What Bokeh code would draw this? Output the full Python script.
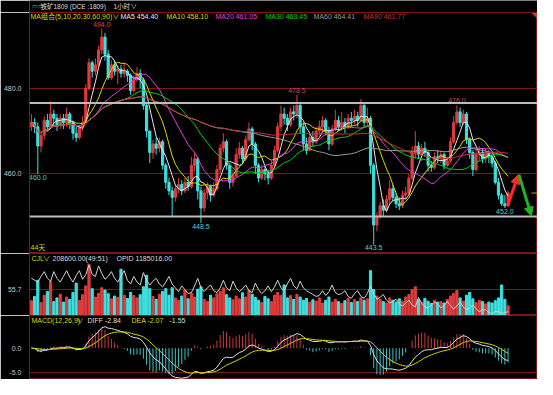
import numpy as np
import pandas as pd
from bokeh.plotting import figure
from bokeh.layouts import column
from bokeh.models import (Range1d, FixedTicker, NumeralTickFormatter, Span, Label,
                          Arrow, NormalHead)
from bokeh.embed import file_html
from bokeh.resources import INLINE
from bokeh.core.properties import value

# ---------------- data ----------------
opens = [471, 472, 471, 466.5, 469, 472.5, 471, 474, 473, 471.5,
         473, 472, 474, 472, 469.5, 468.5, 471, 472, 480, 486,
         484, 485.5, 489, 492, 488, 482.5, 485.5, 484, 484.5, 483.5,
         484, 483, 479.5, 482, 483.5, 482, 476, 470, 465, 467,
         466, 467.5, 462, 458, 456, 454.5, 456.5, 457.5, 456, 458,
         457, 462, 463.5, 456, 452, 455.5, 457, 455, 456.5, 461,
         466, 467.5, 462, 458, 459.5, 464.5, 466, 463.5, 468, 470.5,
         467, 462, 459, 461, 460, 459, 462, 465.5, 471, 474,
         473, 471.5, 474.5, 474, 476, 471, 467, 465.5, 468.5, 467.5,
         470, 471, 472.5, 470, 467, 470.5, 472.5, 471, 472, 471,
         473, 472.5, 473.5, 472.5, 476, 472, 473, 462, 448, 450,
         452.5, 451.5, 454, 456.5, 454.5, 453, 452.5, 455, 455.5, 459,
         465, 466.5, 464.5, 466, 465, 462, 461.5, 464, 463.5, 464.5,
         462, 463, 467.5, 472, 474.5, 472, 474, 468, 465, 461,
         464.5, 465, 463.5, 465, 464, 462.5, 458, 455, 453, 452.5]
highs = [474, 473, 472, 470, 473.5, 474, 477, 475, 474, 474,
         474, 475.5, 474.5, 472.5, 471, 471.5, 473.5, 481, 487, 486.5,
         487, 490, 494, 493, 489, 486.5, 486.5, 485.5, 485.5, 486,
         484.5, 483.5, 483, 485, 484.5, 482.5, 476.5, 470, 468, 468.5,
         468.5, 468, 462.5, 459, 457, 457.5, 459, 458.5, 459, 459.5,
         464, 465, 464, 457, 456.5, 458, 457.5, 458, 462, 467,
         469.5, 468, 462.5, 461, 466, 467.5, 466.5, 469, 472, 471,
         467.5, 462.5, 462, 462, 461, 463, 466.5, 472, 476, 475.5,
         474, 475.5, 476, 478.5, 476.5, 472, 468.5, 469.5, 470, 471,
         472.5, 473.5, 473, 471, 471.5, 475, 473.5, 474.5, 473, 474,
         474.5, 475, 474.5, 477.5, 476.5, 475.5, 473.5, 462.5, 451, 453.5,
         454, 455, 458.5, 457.5, 455.5, 454.5, 456, 457, 460, 466.5,
         470, 467.5, 467, 467.5, 465.5, 463, 465, 465.5, 465.5, 465,
         464, 468.5, 473.5, 476, 475.5, 475, 474.5, 468.5, 465.5, 466,
         466.5, 466, 466, 465.5, 465, 463, 459, 455.5, 455, 456]
lows = [470, 469.5, 460, 465, 468, 470, 470.5, 471, 470, 470.5,
        470.5, 471, 470.5, 468, 467.5, 468, 470, 471.5, 479.5, 482.5,
        483, 485, 488, 486.5, 482, 482, 483, 481, 482.5, 482.5,
        481.5, 478.5, 479, 481.5, 480, 475, 468.5, 462.5, 463.5, 464.5,
        465, 461, 456.5, 455, 450, 453.5, 455.5, 455, 455.5, 456,
        456.5, 460.5, 454, 448.5, 451, 454, 453.5, 454.5, 456, 460,
        465, 461, 456.5, 457, 459, 463.5, 462.5, 463, 467.5, 465.5,
        460, 458, 458.5, 458.5, 457.5, 458.5, 461.5, 465, 470, 471.5,
        470, 471, 472.5, 473, 469.5, 465.5, 464.5, 465.5, 466.5, 467,
        469, 470, 469, 465.5, 466.5, 470, 470, 470.5, 469.5, 470.5,
        471, 471.5, 471, 472, 471, 471, 460, 443.5, 446.5, 449.5,
        450, 451, 453, 453.5, 452, 451.5, 452, 454, 455, 458.5,
        463.5, 463.5, 463, 464, 460.5, 460.5, 461, 462.5, 462.5, 461,
        461.5, 462.5, 467, 471.5, 471, 471.5, 467, 463.5, 459.5, 460.5,
        463, 462.5, 462.5, 462.5, 461.5, 457.5, 454, 452.5, 452, 452.5]
closes = [472, 471, 466.5, 469, 472.5, 471, 474, 473, 471.5, 473,
          472, 474, 472, 469.5, 468.5, 471, 472, 480, 486, 484,
          485.5, 489, 492, 488, 482.5, 485.5, 484, 484.5, 483.5, 484,
          483, 479.5, 482, 483.5, 482, 476, 470, 465, 467, 466,
          467.5, 462, 458, 456, 454.5, 456.5, 457.5, 456, 458, 457,
          462, 463.5, 456, 452, 455.5, 457, 455, 456.5, 461, 466,
          467.5, 462, 458, 459.5, 464.5, 466, 463.5, 468, 470.5, 467,
          462, 459, 461, 460, 459, 462, 465.5, 471, 474, 473,
          471.5, 474.5, 474, 476, 471, 467, 465.5, 468.5, 467.5, 470,
          471, 472.5, 470, 467, 470.5, 472.5, 471, 472, 471, 473,
          472.5, 473.5, 472.5, 476, 472, 473, 462, 448, 450, 452.5,
          451.5, 454, 456.5, 454.5, 453, 452.5, 455, 455.5, 459, 465,
          466.5, 464.5, 466, 465, 462, 461.5, 464, 463.5, 464.5, 462,
          463, 467.5, 472, 474.5, 472, 474, 468, 465, 461, 464.5,
          465, 463.5, 465, 464, 462.5, 458, 455, 453, 452.5, 455.5]
volumes = [32, 41, 76, 28, 44, 52, 74, 30, 38, 46,
           29, 40, 35, 50, 70, 33, 45, 64, 111, 58,
           40, 48, 60, 55, 47, 36, 42, 39, 100, 44,
           37, 50, 43, 38, 45, 62, 87, 58, 41, 35,
           46, 52, 58, 44, 60, 38, 33, 42, 55, 36,
           48, 40, 57, 62, 35, 30, 44, 38, 47, 52,
           60, 45, 38, 34, 42, 36, 49, 40, 54, 46,
           39, 33, 28, 41, 36, 30, 44, 50, 43, 66,
           38, 43, 35, 46, 40, 33, 37, 29, 34, 31,
           38, 27, 33, 40, 29, 35, 30, 26, 32, 37,
           28, 34, 30, 38, 33, 36, 97, 56, 42, 35,
           30, 27, 38, 33, 29, 36, 31, 40, 45, 56,
           62, 34, 28, 37, 31, 26, 33, 29, 30, 27,
           35, 42, 48, 54, 38, 31, 44, 50, 36, 28,
           33, 30, 25, 29, 27, 32, 38, 66, 35, 21]
open_interest = [136, 135, 134, 137, 139.5, 136, 134.5, 139.5, 136, 134,
                 137, 140, 136.5, 134, 137.5, 140, 135.5, 138, 143, 138,
                 137, 142.5, 138.5, 135.5, 137, 139.5, 136, 134, 137, 140,
                 135, 133, 137, 134, 132.5, 139, 135, 132.5, 134.5, 136,
                 133, 131.5, 134, 137, 133, 131, 129, 132, 130, 128,
                 128.5, 132, 136, 131, 129, 131, 132.5, 129.5, 128.5, 131,
                 135, 131, 129.5, 134.5, 131, 129, 130.5, 132.5, 129.5, 128.5,
                 133.5, 130, 128, 129.5, 132, 129, 131.5, 135, 131, 129.5,
                 133, 136, 132, 130.5, 134.5, 131, 129.5, 128.5, 127.5, 126.5,
                 127, 129.5, 127, 129, 132.5, 128.5, 127.5, 128, 129.5, 126.5,
                 125.5, 128, 129.5, 126.5, 125.5, 128, 132, 128, 125, 126,
                 127.5, 124.5, 123, 124, 125, 122.5, 121.5, 123, 124.5, 122,
                 121, 126, 123, 121, 120.5, 122, 123.5, 122.5, 120.5, 121.5,
                 124, 121.5, 120, 121.5, 123.5, 121, 119.5, 120.5, 122, 120,
                 118.5, 119.5, 119.5, 118, 117.5, 118.5, 118.5, 117.5, 118, 118.5]

title_icon = "▭▭"
title_text = "铁矿1809 (DCE :1809)"
period_text = "1小时"
ma_header = "MA组合(5,10,20,30,60,90)"
ma_periods = [5, 10, 20, 30, 60, 90]
ma_values = ["454.40", "458.10", "461.05", "463.45", "464.41", "461.77"]
price_ticks = [460, 480]
vol_ticks = [55.7]
macd_ticks = [-5.0, 0.0]
support_levels = [476.6, 450.0]
high_marks = [22, 83, 133]
low_marks = [2, 53, 107, 148]
arrow_x = [148.8, 152.2, 156.3]
arrow_y = [452.4, 459.8, 450.1]
vol_header = ["CJL", "208600.00(49:51)", "OPID 1185016.00"]
macd_header = ["MACD(12,26,9)", "DIFF -2.84", "DEA -2.07", "-1.55"]
day_count = "44天"

# ---------------- styling ----------------
W = 537
LEFT = 28
DARK = "#7d1616"
UP = "#e03c3c"
DOWN = "#3ee0e0"
YEL = "#d8d800"
WHITE = "#dcdcdc"
FONT = "Liberation Sans, Noto Sans CJK SC"
FS = "7px"
ma_colors = ["#e6e6e6", "#d8d800", "#e040e0", "#00d000", "#9a9a9a", "#c83232"]

n = len(closes)
idx = np.arange(n)
o = np.array(opens, float)
c = np.array(closes, float)
h = np.array(highs, float)
lo = np.array(lows, float)
up = c >= o
colors = np.where(up, UP, DOWN).tolist()

xr = Range1d(-0.6, 158.2)


def make_fig(height, yr, ticks):
    p = figure(width=W, height=height, x_range=xr, y_range=Range1d(*yr),
               x_axis_location=None, y_axis_location="left", toolbar_location=None,
               output_backend="svg", min_border_left=LEFT, min_border_right=0,
               min_border_top=0, min_border_bottom=0, background_fill_color="black",
               border_fill_color="black", outline_line_color=DARK, outline_line_width=1)
    ax = p.yaxis[0]
    ax.ticker = FixedTicker(ticks=ticks)
    ax.formatter = NumeralTickFormatter(format="0.0")
    ax.major_label_text_font_size = FS
    ax.major_label_text_font = FONT
    ax.major_label_text_color = "#c8c8c8"
    ax.major_tick_line_color = None
    ax.minor_tick_line_color = None
    ax.axis_line_color = DARK
    ax.major_label_standoff = 2
    p.xgrid.visible = False
    p.ygrid.ticker = FixedTicker(ticks=ticks)
    p.ygrid.grid_line_color = DARK
    return p


def lab(p, x, y, text, color, align="left", baseline="middle", size=FS):
    p.add_layout(Label(x=x, y=y, x_units="screen", y_units="screen", text=text,
                       text_color=color, text_font_size=size, text_font=FONT,
                       text_align=align, text_baseline=baseline))


# ---------------- title bar ----------------
pt = figure(width=W, height=12, x_range=Range1d(0, 1), y_range=Range1d(0, 1),
            x_axis_location=None, y_axis_location=None, toolbar_location=None,
            output_backend="svg", min_border=0, background_fill_color="black",
            border_fill_color="black", outline_line_color=None)
pt.grid.visible = False
lab(pt, 2, 6.5, title_icon, "#a0a0a0", size="6px")
lab(pt, 11, 6.5, title_text, WHITE, size="6.5px")
lab(pt, 84, 6.5, period_text, WHITE, size="6.5px")
lab(pt, 101, 6.5, "∨", WHITE, size="6.5px")

# ---------------- main price panel ----------------
MH = 241
pm = make_fig(MH, (441.35, 497.75), price_ticks)
pm.segment(x0=idx, y0=lo, x1=idx, y1=h, color=colors, line_width=1)
pm.vbar(x=idx, width=0.68, top=np.maximum(o, c), bottom=np.minimum(o, c),
        fill_color=colors, line_color=colors)
cs = pd.Series(c)
for per, col in zip(ma_periods, ma_colors):
    pm.line(idx, cs.rolling(per, min_periods=1).mean().values, color=col, line_width=1)
for lvl in support_levels:
    pm.add_layout(Span(location=lvl, dimension="width", line_color="#bdbdbd", line_width=2))
pm.text(x=high_marks, y=[highs[i] for i in high_marks],
        text=[f"{highs[i]:.1f}" for i in high_marks], text_color="#d84848",
        text_font=value(FONT), text_font_size=value(FS), text_align="center",
        text_baseline="bottom", y_offset=-2)
pm.text(x=low_marks, y=[lows[i] for i in low_marks],
        text=[f"{lows[i]:.1f}" for i in low_marks], text_color="#48d0d0",
        text_font=value(FONT), text_font_size=value(FS), text_align="center",
        text_baseline="top", y_offset=1)
pm.segment(x0=[n - 1 + 7.3], y0=[closes[-1]], x1=[xr.end], y1=[closes[-1]],
           color="#a8a800", line_width=1)
pm.add_layout(Arrow(x_start=arrow_x[0], y_start=arrow_y[0], x_end=arrow_x[1], y_end=arrow_y[1],
                    line_color="#ff2a2a", line_width=3,
                    end=NormalHead(size=9, fill_color="#ff2a2a", line_color="#ff2a2a")))
pm.add_layout(Arrow(x_start=arrow_x[1] + 0.2, y_start=arrow_y[1], x_end=arrow_x[2], y_end=arrow_y[2],
                    line_color="#22b422", line_width=3,
                    end=NormalHead(size=9, fill_color="#22b422", line_color="#22b422")))
hx = [1, 91, 137, 186, 236, 284, 334]
lab(pm, hx[0], MH - 3.5, ma_header + "∨", YEL)
for k, (per, val, col) in enumerate(zip(ma_periods, ma_values, ma_colors)):
    lab(pm, hx[k + 1], MH - 3.5, f"MA{per} {val}", col)
lab(pm, 1, 6, day_count, YEL)
lab(pm, 509, MH, "◥", "#e03030", align="right", baseline="top", size="7px")

# ---------------- volume panel ----------------
VH = 62
pv = make_fig(VH, (0, 134), vol_ticks)
pv.vbar(x=idx, width=0.68, top=volumes, bottom=0, fill_color=colors, line_color=colors)
pv.extra_y_ranges = {"oi": Range1d(116.5, 149)}
pv.line(idx, open_interest, y_range_name="oi", color="#d0d0d0", line_width=1)
lab(pv, 2, VH - 4.5, vol_header[0], YEL)
lab(pv, 13.5, VH - 4.5, "∨", YEL)
lab(pv, 23, VH - 4.5, vol_header[1], WHITE)
lab(pv, 87, VH - 4.5, vol_header[2], WHITE)

# ---------------- MACD panel ----------------
CH = 64
pc = make_fig(CH, (-6.46, 6.74), macd_ticks)
pc.ygrid.ticker = FixedTicker(ticks=[-5.0])
ema12 = cs.ewm(span=12, adjust=False).mean()
ema26 = cs.ewm(span=26, adjust=False).mean()
diff = ema12 - ema26
dea = diff.ewm(span=9, adjust=False).mean()
hist = 2 * (diff - dea)
hcol = np.where(hist.values >= 0, "#c83c3c", "#3cc0c0").tolist()
pc.segment(x0=idx, y0=0, x1=idx, y1=hist.values, color=hcol, line_width=1)
pc.line(idx, diff.values, color="#e0e0e0", line_width=1)
pc.line(idx, dea.values, color="#d0d000", line_width=1)
lab(pc, 2, CH - 5, macd_header[0], YEL)
lab(pc, 47, CH - 5, "∨", YEL)
lab(pc, 58, CH - 5, macd_header[1], WHITE)
lab(pc, 102, CH - 5, macd_header[2], YEL)
lab(pc, 140, CH - 5, macd_header[3], WHITE)

layout = column(pt, pm, pv, pc, spacing=0)
open("out.html", "w").write(file_html(layout, INLINE))
